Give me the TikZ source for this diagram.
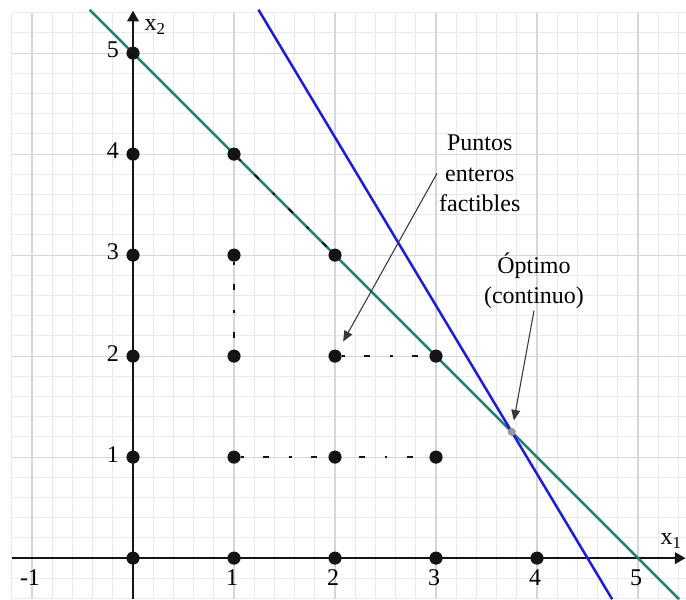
\documentclass[tikz,border=0pt]{standalone}
\usepackage{fontspec}
\setmainfont{Liberation Serif}
\usepackage{tikz}
\usetikzlibrary{arrows.meta, positioning, calc}
\definecolor{mygreen}{RGB}{30,128,112}
\definecolor{myblue}{RGB}{25,25,245}
\definecolor{mydark}{RGB}{20,20,20}
\definecolor{gridminor}{RGB}{234,234,234}
\definecolor{gridmajor}{RGB}{214,214,214}
\definecolor{optgray}{RGB}{150,150,150}
\tikzset{
  ptdot/.style={circle, fill=mydark, minimum size=2.6mm, inner sep=0pt},
  optdot/.style={circle, fill=optgray, minimum size=1.6mm, inner sep=0pt},
  axis/.style={-{Triangle[length=6pt,width=6.5pt]}, line width=1.1pt, color=mydark},
  annarrow/.style={-{Triangle[length=6pt,width=5pt]}, line width=0.6pt, color=mydark!85},
  cline/.style={line width=1.4pt},
  hintline/.style={line width=1.1pt, color=mydark,
    dash pattern=on 1.5pt off 11pt on 3.5pt off 11pt},
  ticklbl/.style={inner sep=1pt},
  lbl/.style={align=center, inner sep=1pt}
}

\begin{document}
\begin{tikzpicture}[x=2cm, y=2cm, font=\fontsize{13.5}{17}\selectfont]
  \useasboundingbox (-1.317,-0.407) rectangle (5.475,5.526);

  % ── Grid ────────────────────────────────────────────────────────────────
  \draw[gridminor, line width=0.5pt, step=0.2] (-1.2,-0.407) grid (5.475,5.4);
  \draw[gridmajor, line width=0.6pt, step=1] (-1.2,-0.407) grid (5.475,5.4);

  % ── Axes ────────────────────────────────────────────────────────────────
  \coordinate (xstart) at (-1.2,0);
  \coordinate (xend)   at (5.47,0);
  \coordinate (ystart) at (0,-0.407);
  \coordinate (yend)   at (0,5.42);
  \draw[axis] (xstart) -- (xend);
  \draw[axis] (ystart) -- (yend);
  \node (x1lbl) at (5.33,0.17) {x\textsubscript{1}};
  \node (x2lbl) at (0.22,5.26) {x\textsubscript{2}};

  % tick labels
  \foreach \k in {1,...,5} {
    \node[ticklbl, anchor=east] (ylbl-\k) at (-0.12,\k+0.03) {\k};
    \node[ticklbl] (xlbl-\k) at (\k-0.02,-0.19) {\k};
  }
  \node[ticklbl] (xlbl-m1) at (-1.02,-0.19) {-1};

  % ── Constraint lines ────────────────────────────────────────────────────
  \coordinate (gtop) at (-0.43,5.43);
  \coordinate (gbot) at (5.407,-0.407);
  \coordinate (btop) at (1.242,5.43);
  \coordinate (bbot) at (4.744,-0.407);
  \draw[cline, mygreen] (gtop) -- (gbot);
  \draw[cline, myblue]  (btop) -- (bbot);

  % ── Integer points ──────────────────────────────────────────────────────
  \foreach \x/\ymax in {0/5,1/4,2/3,3/2,4/0} {
    \foreach \y in {0,...,\ymax} {
      \node[ptdot] (p-\x-\y) at (\x,\y) {};
    }
  }
  \node[optdot] (opt) at (3.75,1.25) {};

  % dashed hints
  \draw[hintline] (p-1-1) -- (p-3-1);
  \draw[hintline] (p-1-3) -- (p-1-2);
  \draw[hintline] (p-2-2) -- (p-3-2);
  \draw[hintline] (p-1-4) -- (p-2-3);

  % ── Annotations ─────────────────────────────────────────────────────────
  \node[lbl, anchor=west] (ptslbl) at (3.01,3.81) {Puntos\\enteros\\factibles};
  \node[lbl, anchor=south] (optlbl) at (3.97,2.45) {Óptimo\\(continuo)};
  \draw[annarrow, shorten >=5.5pt] (ptslbl.west) -- (p-2-2);
  \draw[annarrow, shorten >=4pt] (optlbl.south) -- (opt);
\end{tikzpicture}
\end{document}
